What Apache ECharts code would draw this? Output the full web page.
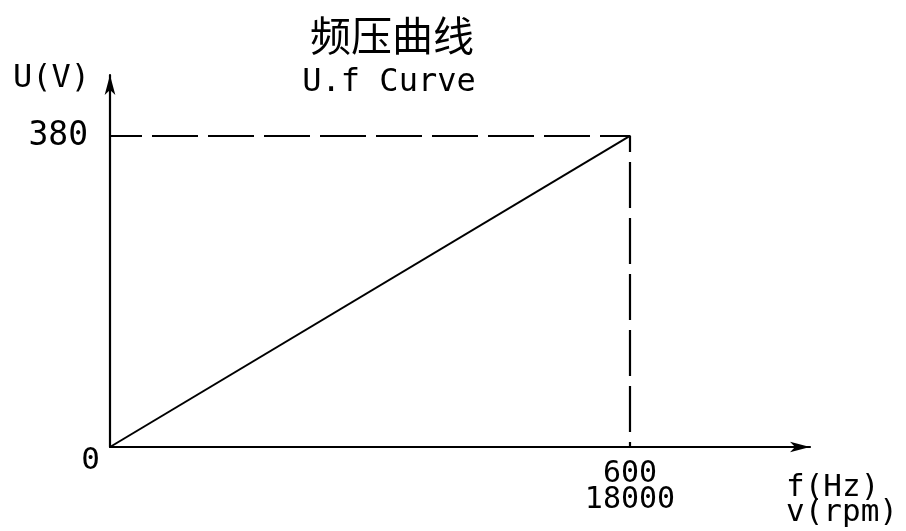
<!DOCTYPE html>
<html>
<head>
<meta charset="utf-8">
<script src="https://cdn.jsdelivr.net/npm/echarts@6/dist/echarts.min.js"></script>
<style>
  html, body { margin: 0; padding: 0; background: #fff; }
  #chart { width: 906px; height: 531px; }
</style>
</head>
<body>
<div id="chart"></div>
<script>
  // 频压曲线数据
  const curveF = [0, 600];
  const curveU = [0, 380];
  // 虚线辅助线
  const guideF = [0, 600, 600];
  const guideU = [380, 380, 0];
  // 刻度
  const xTicks = [600];
  const xTickRpm = ['18000'];
  const yTicks = [0, 380];

  const mono = '"DejaVu Sans Mono", monospace';
  const chart = echarts.init(document.getElementById('chart'));

  let options = {
    backgroundColor: '#fff',
    animation: false,
    title: [
      {
        text: '频压曲线',
        left: 387,
        top: 10,
        textAlign: 'center',
        textStyle: { fontFamily: '"Noto Sans CJK SC"', fontSize: 41, fontWeight: 'normal', color: '#000' }
      },
      {
        text: 'U.f Curve',
        left: 384,
        top: 62,
        textAlign: 'center',
        textStyle: { fontFamily: mono, fontSize: 32, fontWeight: 'normal', color: '#000' }
      }
    ],
    grid: { left: 110, right: 96, top: 75, bottom: 84 },
    xAxis: {
      type: 'value',
      min: 0,
      max: 807.7,
      name: 'f(Hz)\nv(rpm)',
      nameLocation: 'end',
      nameGap: -24,
      nameTextStyle: {
        fontFamily: mono, fontSize: 31, color: '#000', align: 'left',
        verticalAlign: 'top', lineHeight: 25, padding: [28, 0, 0, 0]
      },
      axisLine: {
        lineStyle: { color: '#000', width: 2.2 },
        symbol: ['none', 'arrow'],
        symbolSize: [8, 20]
      },
      axisTick: { show: false },
      splitLine: { show: false },
      axisLabel: {
        customValues: xTicks,
        margin: 14,
        fontFamily: mono,
        fontSize: 30,
        lineHeight: 26,
        color: '#000',
        formatter: (v) => v + '\n' + xTickRpm[xTicks.indexOf(v)]
      }
    },
    yAxis: {
      type: 'value',
      min: 0,
      max: 454.5,
      name: 'U(V)',
      nameLocation: 'end',
      nameGap: -4,
      nameTextStyle: {
        fontFamily: mono, fontSize: 32, color: '#000', align: 'right',
        verticalAlign: 'middle', padding: [0, 20, 0, 0]
      },
      axisLine: {
        lineStyle: { color: '#000', width: 2.2 },
        symbol: ['none', 'arrow'],
        symbolSize: [8, 20]
      },
      axisTick: { show: false },
      splitLine: { show: false },
      axisLabel: {
        customValues: yTicks,
        margin: 10,
        fontFamily: mono,
        fontSize: 32,
        color: '#000',
        formatter: (v) => (v === 0 ? '{z|0}' : '{t|' + v + '}'),
        rich: {
          z: { fontFamily: mono, fontSize: 31, padding: [28, 0, 0, 0] },
          t: { fontFamily: mono, fontSize: 33, padding: [0, 12, 0, 0] }
        }
      }
    },
    series: [
      {
        type: 'line',
        name: 'guide',
        data: guideF.map((f, i) => [f, guideU[i]]),
        symbol: 'none',
        lineStyle: { color: '#000', width: 2.2, type: [46, 10], dashOffset: 14 },
        z: 1
      },
      {
        type: 'line',
        name: 'curve',
        data: curveF.map((f, i) => [f, curveU[i]]),
        symbol: 'none',
        lineStyle: { color: '#000', width: 2 },
        z: 2
      }
    ]
  };
  chart.setOption(options);
</script>
</body>
</html>
